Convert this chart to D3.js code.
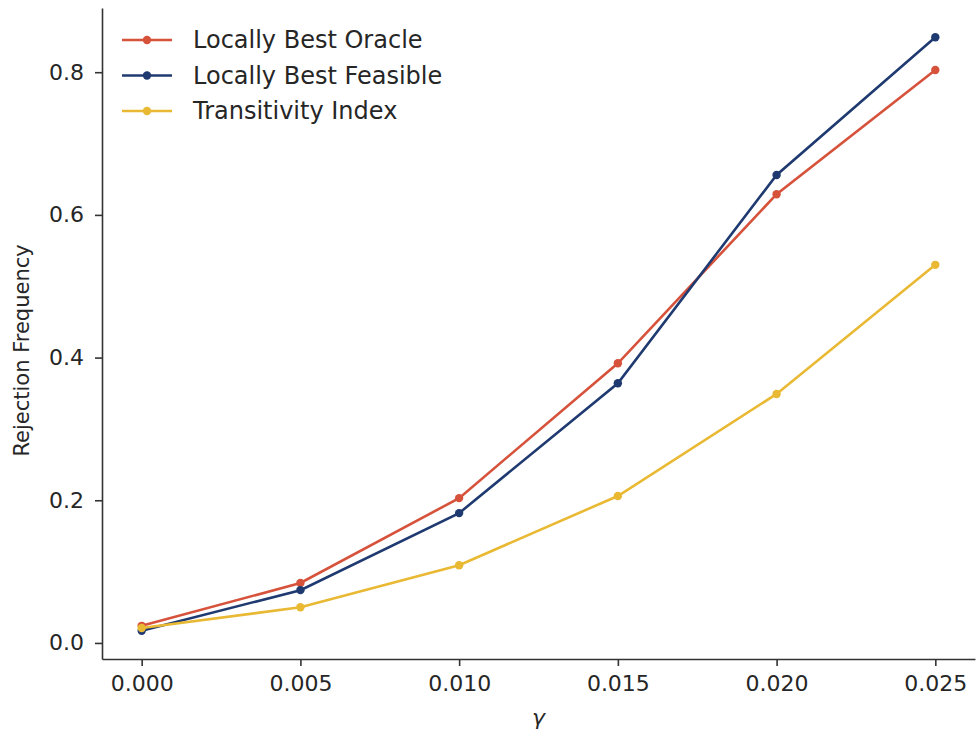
<!DOCTYPE html>
<html>
<head>
<meta charset="utf-8">
<script src="https://cdn.jsdelivr.net/npm/d3@7"></script>
<style>
  body { margin: 0; background: #fff; }
  svg text { font-family: "DejaVu Sans", sans-serif; fill: #262626; }
</style>
</head>
<body>
<div id="chart"></div>
<script>
// --- data ---
var gamma = [0.000, 0.005, 0.010, 0.015, 0.020, 0.025];
var oracle = [0.024, 0.084, 0.203, 0.392, 0.629, 0.803];
var feasible = [0.017, 0.074, 0.182, 0.364, 0.656, 0.849];
var transitivity = [0.021, 0.050, 0.109, 0.206, 0.349, 0.530];
var seriesNames = ["Locally Best Oracle", "Locally Best Feasible", "Transitivity Index"];
var xTicks = [0.000, 0.005, 0.010, 0.015, 0.020, 0.025];
var yTicks = [0.0, 0.2, 0.4, 0.6, 0.8];

var colors = ["#d6523b", "#1f3a70", "#e9b934"];

var width = 977;
var height = 734;
var margin = ({top: 8, right: 2, bottom: 75, left: 102});

var x = d3.scaleLinear().domain([-0.00125, 0.02625]).range([margin.left, width - margin.right]);
var y = d3.scaleLinear().domain([-0.0225, 0.89]).range([height - margin.bottom, margin.top]);

var svg = d3.select("#chart").append("svg").attr("width", width).attr("height", height);

// axes
var xAxis = svg.append("g")
    .attr("transform", "translate(0," + (height - margin.bottom) + ")")
    .call(d3.axisBottom(x).tickValues(xTicks).tickFormat(d3.format(".3f")).tickSize(7).tickPadding(9).tickSizeOuter(0));
var yAxis = svg.append("g")
    .attr("transform", "translate(" + margin.left + ",0)")
    .call(d3.axisLeft(y).tickValues(yTicks).tickFormat(d3.format(".1f")).tickSize(7).tickPadding(11).tickSizeOuter(0));

[xAxis, yAxis].forEach(function(g){
    g.selectAll("path, line").attr("stroke", "#333").attr("stroke-width", 1.6);
    g.selectAll("text").style("font-size", "22px").attr("fill", "#262626");
});

// axis labels
svg.append("text")
    .attr("x", x(0.0125)).attr("y", 725)
    .attr("text-anchor", "middle")
    .style("font-size", "22px").style("font-style", "italic")
    .text("γ");
svg.append("text")
    .attr("transform", "translate(29," + y(0.41) + ") rotate(-90)")
    .attr("text-anchor", "middle")
    .style("font-size", "21px")
    .text("Rejection Frequency");

// lines + markers
var allSeries = [oracle, feasible, transitivity];
var line = d3.line().x(function(d, i){ return x(gamma[i]); }).y(function(d){ return y(d); });

allSeries.forEach(function(vals, k){
    svg.append("path")
        .attr("d", line(vals))
        .attr("fill", "none")
        .attr("stroke", colors[k])
        .attr("stroke-width", 2.6);
    svg.selectAll(null).data(vals).enter().append("circle")
        .attr("cx", function(d, i){ return x(gamma[i]); })
        .attr("cy", function(d){ return y(d); })
        .attr("r", 4.2)
        .attr("fill", colors[k]);
});

// legend
var legend = svg.append("g");
seriesNames.forEach(function(name, k){
    var ly = 40 + k * 35.5;
    legend.append("line")
        .attr("x1", 122).attr("x2", 172).attr("y1", ly).attr("y2", ly)
        .attr("stroke", colors[k]).attr("stroke-width", 2.6);
    legend.append("circle").attr("cx", 147).attr("cy", ly).attr("r", 4.2).attr("fill", colors[k]);
    legend.append("text")
        .attr("x", 193).attr("y", ly).attr("dy", "0.35em")
        .style("font-size", "24px")
        .text(name);
});
</script>
</body>
</html>
